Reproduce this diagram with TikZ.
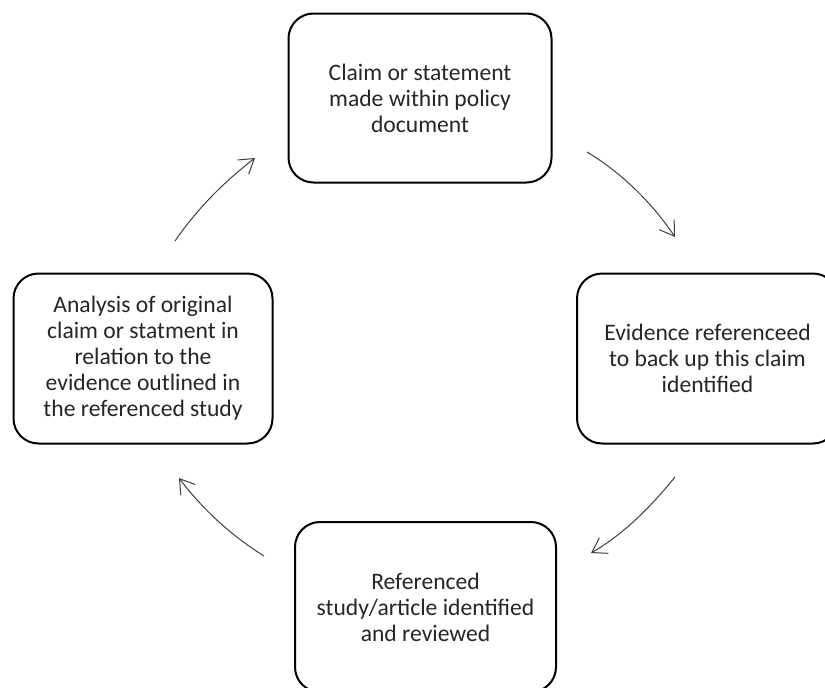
\documentclass[tikz,border=0pt]{standalone}
\usepackage{fontspec}
\setmainfont{Carlito}
\usetikzlibrary{arrows.meta}
\begin{document}
\begin{tikzpicture}[x=1pt,y=-1pt,
  box/.style={draw=black, line width=2pt, rounded corners=25pt, align=center,
    inner sep=0pt, font=\fontsize{23.6}{26}\selectfont, text=black!85},
  cyc/.style={draw=black!75, line width=1pt,
    -{Straight Barb[length=14pt,width=18pt,line width=1pt]}}]
\useasboundingbox (0,0) rectangle (825,688);
\fill[white] (0,0) rectangle (825,688);
\node[box, minimum width=263pt, minimum height=169pt] (claim) at (420,98)
  {Claim or statement\\made within policy\\document};
\node[box, minimum width=261pt, minimum height=170pt] (evid) at (707.5,358.5)
  {Evidence referenceed\\to back up this claim\\identified};
\node[box, minimum width=261pt, minimum height=170pt] (study) at (425.5,607)
  {Referenced\\study/article identified\\and reviewed};
\node[box, minimum width=259pt, minimum height=170pt] (anal) at (143,358.5)
  {Analysis of original\\claim or statment in\\relation to the\\evidence outlined in\\the referenced study};
\coordinate (a1s) at (587,152);
\coordinate (a1e) at (675,237);
\coordinate (a2s) at (675,477);
\coordinate (a2e) at (591,553);
\coordinate (a3s) at (264,556);
\coordinate (a3e) at (179,478);
\coordinate (a4s) at (175,241);
\coordinate (a4e) at (255,158);
\draw[cyc] (a1s) .. controls (622.1,173.1) and (652.1,203.0) .. (a1e);
\draw[cyc] (a2s) .. controls (651.1,506.5) and (623.9,534) .. (a2e);
\draw[cyc] (a3s) .. controls (230.9,535.3) and (202.5,509.2) .. (a3e);
\draw[cyc] (a4s) .. controls (197.1,208.9) and (224.1,181.8) .. (a4e);
\end{tikzpicture}
\end{document}
